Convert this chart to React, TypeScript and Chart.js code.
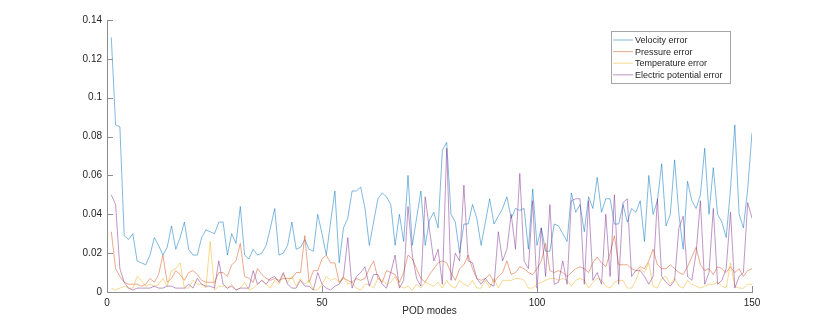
import React, { useEffect, useRef } from "react";
import { Chart, registerables } from "chart.js";

Chart.register(...registerables);

// POD mode indices (category axis)
const modes: number[] = Array.from({ length: 150 }, (_, i) => i + 1);

const velocityError = [
  0.131, 0.086, 0.085, 0.029, 0.027, 0.030, 0.016, 0.015, 0.014, 0.019,
  0.028, 0.024, 0.019, 0.023, 0.034, 0.022, 0.028, 0.036, 0.022, 0.019,
  0.019, 0.028, 0.032, 0.031, 0.030, 0.036, 0.036, 0.019, 0.030, 0.025,
  0.044, 0.019, 0.017, 0.022, 0.019, 0.020, 0.024, 0.033, 0.043, 0.019,
  0.020, 0.024, 0.036, 0.022, 0.023, 0.027, 0.022, 0.021, 0.040, 0.030,
  0.019, 0.036, 0.052, 0.015, 0.033, 0.038, 0.052, 0.052, 0.054, 0.043,
  0.024, 0.036, 0.048, 0.051, 0.049, 0.045, 0.024, 0.040, 0.026, 0.060,
  0.024, 0.038, 0.052, 0.024, 0.037, 0.041, 0.033, 0.073, 0.077, 0.040,
  0.036, 0.020, 0.035, 0.035, 0.045, 0.038, 0.024, 0.036, 0.048, 0.035,
  0.039, 0.043, 0.049, 0.038, 0.043, 0.042, 0.043, 0.022, 0.053, 0.024,
  0.033, 0.021, 0.021, 0.035, 0.034, 0.030, 0.026, 0.051, 0.041, 0.045,
  0.031, 0.049, 0.043, 0.059, 0.041, 0.048, 0.048, 0.035, 0.035, 0.045,
  0.036, 0.043, 0.041, 0.047, 0.026, 0.060, 0.040, 0.047, 0.066, 0.034,
  0.040, 0.068, 0.040, 0.022, 0.057, 0.047, 0.043, 0.050, 0.074, 0.040,
  0.064, 0.040, 0.036, 0.028, 0.053, 0.086, 0.040, 0.033, 0.053, 0.082,
];

const pressureError = [
  0.031, 0.012, 0.008, 0.005, 0.004, 0.004, 0.004, 0.003, 0.004, 0.007,
  0.005, 0.009, 0.019, 0.005, 0.007, 0.011, 0.009, 0.006, 0.010, 0.011,
  0.009, 0.006, 0.005, 0.005, 0.005, 0.010, 0.010, 0.008, 0.014, 0.016,
  0.025, 0.008, 0.007, 0.005, 0.012, 0.009, 0.007, 0.006, 0.007, 0.006,
  0.007, 0.007, 0.007, 0.010, 0.010, 0.029, 0.005, 0.011, 0.011, 0.017,
  0.019, 0.015, 0.015, 0.005, 0.007, 0.006, 0.005, 0.007, 0.006, 0.007,
  0.012, 0.016, 0.007, 0.005, 0.011, 0.010, 0.009, 0.005, 0.010, 0.019,
  0.017, 0.012, 0.007, 0.005, 0.009, 0.012, 0.015, 0.016, 0.015, 0.010,
  0.006, 0.012, 0.014, 0.019, 0.012, 0.007, 0.006, 0.007, 0.009, 0.005,
  0.008, 0.010, 0.016, 0.009, 0.010, 0.013, 0.012, 0.010, 0.009, 0.012,
  0.016, 0.025, 0.011, 0.010, 0.011, 0.010, 0.008, 0.010, 0.012, 0.013,
  0.012, 0.010, 0.015, 0.018, 0.015, 0.013, 0.020, 0.029, 0.014, 0.014,
  0.014, 0.012, 0.011, 0.013, 0.012, 0.016, 0.022, 0.014, 0.012, 0.012,
  0.014, 0.012, 0.010, 0.009, 0.013, 0.018, 0.023, 0.014, 0.011, 0.012,
  0.009, 0.013, 0.012, 0.010, 0.013, 0.010, 0.012, 0.008, 0.011, 0.012,
];

const temperatureError = [
  0.002, 0.001, 0.002, 0.003, 0.002, 0.002, 0.008, 0.006, 0.003, 0.004,
  0.003, 0.004, 0.007, 0.003, 0.011, 0.012, 0.015, 0.002, 0.002, 0.006,
  0.004, 0.004, 0.002, 0.026, 0.001, 0.003, 0.003, 0.002, 0.004, 0.001,
  0.002, 0.005, 0.001, 0.002, 0.004, 0.006, 0.004, 0.002, 0.006, 0.004,
  0.009, 0.005, 0.008, 0.003, 0.007, 0.004, 0.006, 0.001, 0.001, 0.004,
  0.008, 0.006, 0.007, 0.005, 0.008, 0.004, 0.005, 0.002, 0.001, 0.004,
  0.004, 0.002, 0.007, 0.006, 0.004, 0.005, 0.008, 0.003, 0.002, 0.003,
  0.001, 0.004, 0.002, 0.005, 0.004, 0.003, 0.005, 0.002, 0.006, 0.003,
  0.002, 0.006, 0.004, 0.003, 0.006, 0.002, 0.002, 0.006, 0.002, 0.007,
  0.002, 0.006, 0.006, 0.006, 0.007, 0.007, 0.006, 0.002, 0.002, 0.004,
  0.005, 0.006, 0.007, 0.007, 0.006, 0.007, 0.006, 0.003, 0.006, 0.007,
  0.006, 0.002, 0.005, 0.007, 0.006, 0.003, 0.002, 0.005, 0.006, 0.006,
  0.002, 0.002, 0.006, 0.012, 0.010, 0.015, 0.003, 0.002, 0.007, 0.008,
  0.004, 0.007, 0.003, 0.002, 0.006, 0.004, 0.003, 0.002, 0.003, 0.004,
  0.004, 0.005, 0.003, 0.002, 0.015, 0.003, 0.002, 0.002, 0.004, 0.004,
];

const electricError = [
  0.050, 0.045, 0.012, 0.005, 0.002, 0.001, 0.002, 0.002, 0.002, 0.002,
  0.003, 0.002, 0.002, 0.003, 0.003, 0.002, 0.002, 0.002, 0.004, 0.002,
  0.007, 0.004, 0.003, 0.003, 0.002, 0.016, 0.004, 0.002, 0.003, 0.001,
  0.002, 0.002, 0.002, 0.011, 0.004, 0.006, 0.004, 0.007, 0.008, 0.005,
  0.010, 0.004, 0.002, 0.002, 0.006, 0.003, 0.003, 0.001, 0.010, 0.004,
  0.002, 0.001, 0.003, 0.004, 0.008, 0.028, 0.002, 0.008, 0.010, 0.013,
  0.003, 0.009, 0.009, 0.004, 0.002, 0.010, 0.019, 0.002, 0.006, 0.044,
  0.019, 0.007, 0.003, 0.049, 0.032, 0.016, 0.022, 0.004, 0.074, 0.006,
  0.020, 0.016, 0.055, 0.016, 0.015, 0.007, 0.004, 0.007, 0.004, 0.003,
  0.031, 0.016, 0.022, 0.040, 0.022, 0.061, 0.016, 0.012, 0.047, 0.002,
  0.033, 0.008, 0.045, 0.004, 0.005, 0.016, 0.004, 0.047, 0.048, 0.048,
  0.004, 0.047, 0.006, 0.010, 0.004, 0.040, 0.008, 0.050, 0.004, 0.046,
  0.048, 0.008, 0.011, 0.011, 0.008, 0.004, 0.008, 0.048, 0.008, 0.005,
  0.003, 0.006, 0.033, 0.039, 0.008, 0.006, 0.020, 0.047, 0.004, 0.010,
  0.043, 0.004, 0.006, 0.012, 0.041, 0.002, 0.008, 0.010, 0.046, 0.038,
];

const seriesNames = [
  "Velocity error",
  "Pressure error",
  "Temperature error",
  "Electric potential error",
];
const seriesColors = ["#0072BD", "#D95319", "#EDB120", "#7E2F8E"];
const xTicks = [0, 50, 100, 150];
const yTicks = [0, 0.02, 0.04, 0.06, 0.08, 0.1, 0.12, 0.14];
const xTitle = "POD modes";

const FONT = "'Liberation Sans', Arial, Helvetica, sans-serif";
const TEXT_COLOR = "#262626";
const AXIS_COLOR = "#8c8c8c";
const LINE_W = 0.5;

const decorPlugin = {
  id: "matlabDecor",
  afterDraw(chart: any) {
    const ctx = chart.ctx as CanvasRenderingContext2D;
    const { left, bottom } = chart.chartArea;
    const xs = chart.scales.x;
    const ys = chart.scales.y;
    ctx.save();
    // inward tick marks
    ctx.strokeStyle = AXIS_COLOR;
    ctx.lineWidth = 1;
    ctx.beginPath();
    xTicks.forEach((t) => {
      const px = Math.round(xs.getPixelForValue(t)) + 0.5;
      ctx.moveTo(px, bottom);
      ctx.lineTo(px, bottom - 6);
    });
    yTicks.forEach((t) => {
      const py = Math.round(ys.getPixelForValue(t)) + 0.5;
      ctx.moveTo(left, py);
      ctx.lineTo(left + 6, py);
    });
    ctx.stroke();

    // legend box
    const bx = 611.5, by = 31.5, bw = 119, bh = 52;
    ctx.fillStyle = "#ffffff";
    ctx.fillRect(bx, by, bw, bh);
    ctx.strokeStyle = "#a6a6a6";
    ctx.lineWidth = 1;
    ctx.strokeRect(bx, by, bw, bh);
    ctx.font = `9px ${FONT}`;
    ctx.textBaseline = "middle";
    ctx.textAlign = "left";
    seriesNames.forEach((name, i) => {
      const cy = 40 + i * 11.6;
      ctx.strokeStyle = seriesColors[i];
      ctx.lineWidth = LINE_W;
      ctx.beginPath();
      ctx.moveTo(613, cy);
      ctx.lineTo(633, cy);
      ctx.stroke();
      ctx.fillStyle = TEXT_COLOR;
      ctx.fillText(name, 635, cy + 0.5);
    });
    ctx.restore();
  },
};

export default function App() {
  const canvasRef = useRef<HTMLCanvasElement | null>(null);

  useEffect(() => {
    if (!canvasRef.current) return;
    const all = [velocityError, pressureError, temperatureError, electricError];
    const chart = new Chart(canvasRef.current, {
      type: "line",
      data: {
        datasets: all.map((arr, i) => ({
          label: seriesNames[i],
          data: arr.map((v, j) => ({ x: modes[j], y: v })),
          borderColor: seriesColors[i],
          backgroundColor: seriesColors[i],
          borderWidth: LINE_W,
          pointRadius: 0,
          tension: 0,
          fill: false,
          order: 3 - i,
        })),
      },
      options: {
        animation: false,
        responsive: false,
        maintainAspectRatio: false,
        events: [],
        layout: { padding: { top: 20, right: 78, left: 0, bottom: 0 } },
        plugins: {
          legend: { display: false },
          tooltip: { enabled: false },
        },
        scales: {
          x: {
            type: "linear",
            min: 0,
            max: 150,
            afterFit: (s: any) => {
              s.height = 36;
            },
            afterBuildTicks: (s: any) => {
              s.ticks = xTicks.map((v) => ({ value: v }));
            },
            grid: { display: false, drawTicks: false },
            border: { display: true, color: AXIS_COLOR, width: 1 },
            ticks: {
              padding: 5,
              color: TEXT_COLOR,
              font: { family: FONT, size: 10 },
              maxRotation: 0,
              callback: (v: any) => String(v),
            },
            title: {
              display: true,
              text: xTitle,
              color: TEXT_COLOR,
              font: { family: FONT, size: 10 },
              padding: { top: 0, bottom: 11 },
            },
          },
          y: {
            type: "linear",
            min: 0,
            max: 0.14,
            afterFit: (s: any) => {
              s.width = 107;
            },
            afterBuildTicks: (s: any) => {
              s.ticks = yTicks.map((v) => ({ value: v }));
            },
            grid: { display: false, drawTicks: false },
            border: { display: true, color: AXIS_COLOR, width: 1 },
            ticks: {
              padding: 5,
              color: TEXT_COLOR,
              font: { family: FONT, size: 10 },
              callback: (v: any) => String(Number(Number(v).toFixed(2))),
            },
          },
        },
      },
      plugins: [decorPlugin],
    } as any);
    return () => chart.destroy();
  }, []);

  return (
    <div
      style={{
        position: "fixed",
        left: 0,
        top: 0,
        width: 830,
        height: 328,
        background: "#ffffff",
      }}
    >
      <canvas
        ref={canvasRef}
        width={830}
        height={328}
        style={{ display: "block", width: 830, height: 328 }}
      />
    </div>
  );
}
